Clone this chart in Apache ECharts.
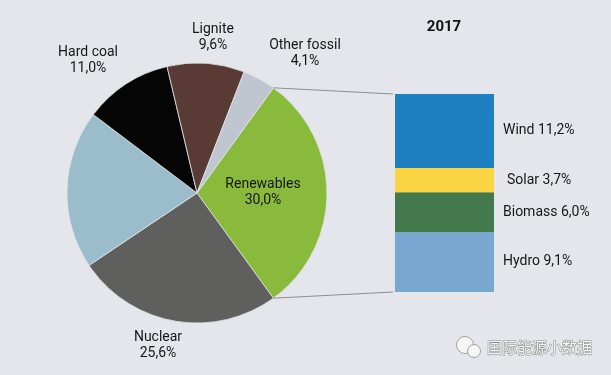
<!DOCTYPE html>
<html><head><meta charset="utf-8">
<script src="https://cdn.jsdelivr.net/npm/echarts@6/dist/echarts.min.js"></script>
<style>html,body{margin:0;padding:0;background:#e5e6eb}#c{width:611px;height:375px}</style>
</head><body><div id="c"></div>
<script>
// ---- data ----
const sources = ['Renewables', 'Nuclear', 'Gas', 'Hard coal', 'Lignite', 'Other fossil'];
const shares = [30.0, 25.6, 19.7, 11.0, 9.6, 4.1];
const renewTypes = ['Hydro', 'Biomass', 'Solar', 'Wind'];
const renewShares = [9.1, 6.0, 3.7, 11.2];
const yearLabel = '2017';
const watermark = '国际能源小数据';

// ---- styles / layout ----
const sourceColors = ['#8aba3c', '#5f5f5e', '#9bbccb', '#050505', '#5a3a34', '#bfc6cf'];
const renewColors = ['#78a8d0', '#44794e', '#fbd444', '#1f80c1'];
const labelPos = [[263, 192], [158, 345], [38, 188], [88, 60], [213, 37], [305, 53]];
const pieCenter = [197, 193];
const pieR = 130;
const fmt = v => v.toFixed(1).replace('.', ',') + '%';
const font = 'Roboto, sans-serif';
const textColor = '#161616';

const chart = echarts.init(document.getElementById('c'), null, {renderer: 'canvas'});
const renewSpan = shares[0] / shares.reduce((a, b) => a + b, 0) * 360;
const startAngle = renewSpan / 2;

const option = {
  backgroundColor: '#e5e6eb',
  animation: false,
  grid: {left: 395, width: 99, top: 94, height: 198, containLabel: false},
  xAxis: {type: 'category', data: [yearLabel], show: false},
  yAxis: {type: 'value', min: 0, max: renewShares.reduce((a, b) => a + b, 0), show: false},
  series: [
    {
      type: 'pie',
      center: pieCenter,
      radius: pieR,
      startAngle: startAngle,
      clockwise: true,
      silent: true,
      data: sources.map((n, i) => ({name: n, value: shares[i], itemStyle: {color: sourceColors[i]}})),
      itemStyle: {borderColor: '#dfe3e6', borderWidth: 0.8},
      label: {
        show: true,
        formatter: p => p.name + '\n' + fmt(p.value),
        fontFamily: font, fontSize: 14, lineHeight: 16, color: textColor, align: 'center'
      },
      labelLine: {show: false},
      labelLayout: p => ({x: labelPos[p.dataIndex][0], y: labelPos[p.dataIndex][1], align: 'center', verticalAlign: 'middle'})
    }
  ].concat(renewTypes.map((n, i) => ({
    type: 'bar',
    name: n,
    stack: 'ren',
    barWidth: '100%',
    silent: true,
    data: [renewShares[i]],
    itemStyle: {color: renewColors[i]},
    label: {
      show: true, position: 'right', distance: n === 'Solar' ? 13 : 9,
      formatter: p => p.seriesName + ' ' + fmt(p.value),
      fontFamily: font, fontSize: 14, color: textColor
    }
  })))
};
chart.setOption(option);

// connector lines from the renewables slice edges to the stacked bar
const toRad = a => a * Math.PI / 180;
const aTop = toRad(startAngle), aBot = toRad(startAngle - renewSpan);
const pTop = [pieCenter[0] + pieR * Math.cos(aTop), pieCenter[1] - pieR * Math.sin(aTop)];
const pBot = [pieCenter[0] + pieR * Math.cos(aBot), pieCenter[1] - pieR * Math.sin(aBot)];
const total = renewShares.reduce((a, b) => a + b, 0);
const barTop = chart.convertToPixel({xAxisIndex: 0, yAxisIndex: 0}, [0, total]);
const barBot = chart.convertToPixel({xAxisIndex: 0, yAxisIndex: 0}, [0, 0]);
const barLeft = 395;

chart.setOption({
  graphic: [
    {type: 'line', shape: {x1: pTop[0], y1: pTop[1], x2: barLeft - 2, y2: barTop[1]}, style: {stroke: '#8d8f94', lineWidth: 1}, z: 10},
    {type: 'line', shape: {x1: pBot[0], y1: pBot[1], x2: barLeft - 2, y2: barBot[1]}, style: {stroke: '#8d8f94', lineWidth: 1}, z: 10},
    {type: 'text', x: 444, y: 27, style: {text: yearLabel, font: 'bold 15px Roboto, sans-serif', fill: '#111', align: 'center', verticalAlign: 'middle'}},
    {type: 'circle', shape: {cx: 465, cy: 345, r: 8.5}, style: {fill: '#f6f6f6', stroke: '#a0a0a0', lineWidth: 1}},
    {type: 'circle', shape: {cx: 474, cy: 351, r: 6.5}, style: {fill: '#f6f6f6', stroke: '#a0a0a0', lineWidth: 1}},
    {type: 'text', x: 487, y: 347, style: {text: watermark, font: '15px "Noto Sans CJK SC", sans-serif', fill: '#f4f4f4', stroke: '#8a8a8a', lineWidth: 1, align: 'left', verticalAlign: 'middle'}}
  ]
});
</script></body></html>
